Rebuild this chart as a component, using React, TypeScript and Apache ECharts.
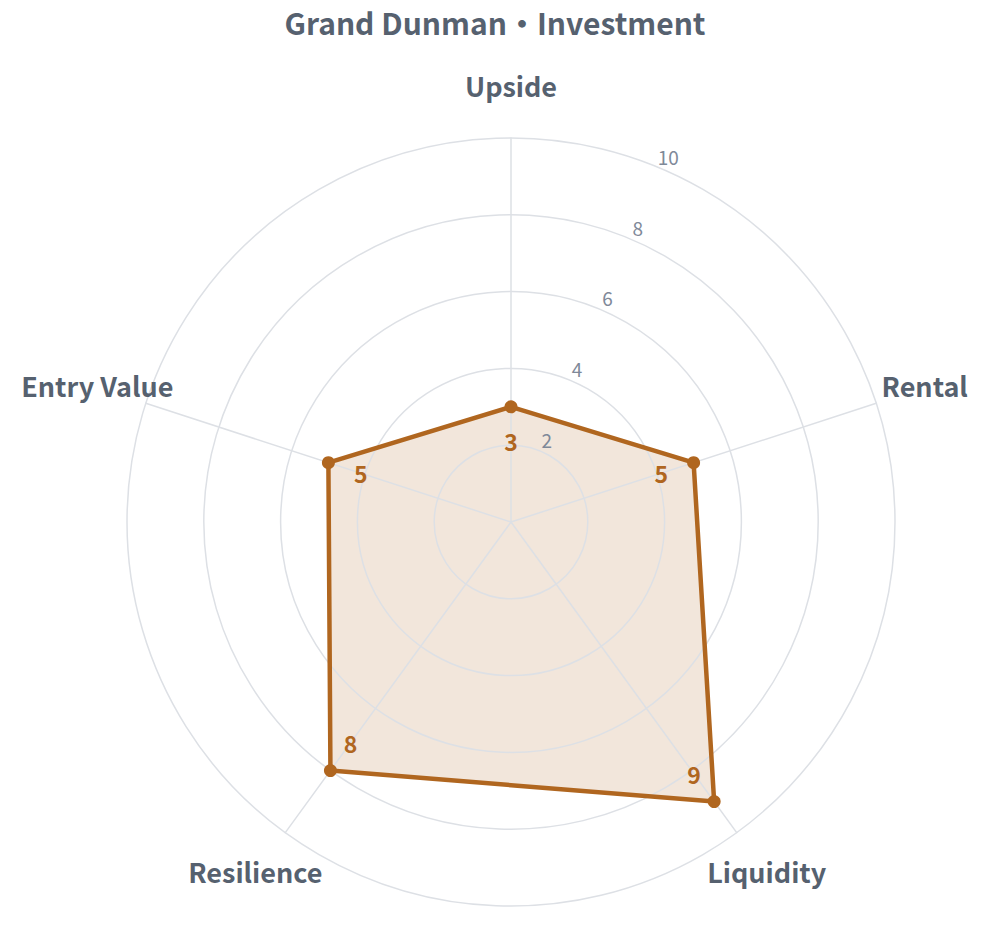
import React, { useEffect, useRef } from "react";
import * as echarts from "echarts";

const TITLE = "Grand Dunman・Investment";
const categories = ["Upside", "Rental", "Liquidity", "Resilience", "Entry Value"];
const scores = [3, 5, 9, 8, 5];
const maxScore = 10;
const tickValues = [2, 4, 6, 8, 10];
const tickLabelAngle = 23.3;

const FONT = "'Noto Sans CJK SC', 'Source Sans 3', 'Source Sans Pro', Lato, sans-serif";
const ACCENT = "#b0661f";
const TEXT = "#56616f";
const TICK_TEXT = "#7f8999";
const GRID = "#dde0e5";

const CENTER: [number, number] = [511, 522];
const RADIUS = 384;

export default function App() {
  const ref = useRef<HTMLDivElement>(null);

  useEffect(() => {
    if (!ref.current) return;
    const chart = echarts.init(ref.current, null, { renderer: "svg" });
    const n = categories.length;
    const step = 360 / n;
    const angleOf = (i: number) => i * step;
    const dirOf = (deg: number, dist: number, dy = 0) => {
      const a = ((90 - deg) * Math.PI) / 180;
      return [dist * Math.cos(a), -dist * Math.sin(a) + dy];
    };
    // ECharts radar runs counter-clockwise; reorder so the picture runs clockwise
    const radarOrder = categories.map((_, i) => (n - i) % n);
    const radarValues = radarOrder.map((i) => scores[i]);

    const hiddenLabelPoint = {
      type: "scatter" as const,
      coordinateSystem: "polar",
      symbol: "circle",
      symbolSize: 1,
      itemStyle: { color: "rgba(0,0,0,0)", opacity: 1 },
      emphasis: { disabled: true },
      silent: true,
      clip: false,
      z: 10,
    };

    chart.setOption({
      animation: false,
      backgroundColor: "#ffffff",
      title: {
        text: TITLE,
        left: "center",
        top: 2,
        textStyle: { fontFamily: FONT, fontSize: 30, fontWeight: "bold", color: TEXT },
      },
      polar: { center: CENTER, radius: RADIUS },
      angleAxis: {
        type: "value",
        min: 0,
        max: 360,
        startAngle: 90,
        clockwise: true,
        show: false,
      },
      radiusAxis: { type: "value", min: 0, max: maxScore, show: false },
      radar: {
        center: CENTER,
        radius: RADIUS,
        startAngle: 90,
        shape: "circle",
        splitNumber: 5,
        z: 1,
        indicator: radarOrder.map((i) => ({ name: categories[i], max: maxScore })),
        axisName: { show: false },
        axisLine: { lineStyle: { color: GRID, width: 1.5 } },
        splitLine: { lineStyle: { color: GRID, width: 1.5 } },
        splitArea: { show: false },
        axisTick: { show: false },
        axisLabel: { show: false },
      },
      series: [
        {
          type: "radar",
          name: "fill",
          z: 0,
          symbol: "none",
          lineStyle: { width: 0, opacity: 0 },
          areaStyle: { color: ACCENT, opacity: 0.16 },
          silent: true,
          data: [{ name: "Investment", value: radarValues }],
        },
        {
          type: "radar",
          name: "outline",
          z: 3,
          symbol: "circle",
          symbolSize: 13,
          lineStyle: { color: ACCENT, width: 4.5 },
          itemStyle: { color: ACCENT },
          label: { show: false },
          data: [{ name: "Investment", value: radarValues }],
        },
        {
          ...hiddenLabelPoint,
          name: "values",
          data: categories.map((c, i) => ({
            name: c,
            value: [scores[i], angleOf(i)],
            label: { offset: dirOf(angleOf(i), -34) },
          })),
          label: {
            show: true,
            position: "inside",
            formatter: (p: any) => String(p.value[0]),
            fontFamily: FONT,
            fontSize: 23,
            fontWeight: "bold",
            color: ACCENT,
          },
        },
        {
          ...hiddenLabelPoint,
          name: "names",
          data: categories.map((c, i) => ({
            name: c,
            value: [maxScore, angleOf(i)],
            label: { offset: dirOf(angleOf(i), 51, -2) },
          })),
          label: {
            show: true,
            position: "inside",
            formatter: "{b}",
            fontFamily: FONT,
            fontSize: 27,
            fontWeight: "bold",
            color: TEXT,
          },
        },
        {
          ...hiddenLabelPoint,
          name: "ticks",
          data: tickValues.map((t) => ({
            value: [t, tickLabelAngle],
            label: { offset: dirOf(tickLabelAngle, 13.5) },
          })),
          label: {
            show: true,
            position: "inside",
            formatter: (p: any) => String(p.value[0]),
            fontFamily: FONT,
            fontSize: 19,
            color: TICK_TEXT,
          },
        },
      ],
    });

    return () => chart.dispose();
  }, []);

  return (
    <div
      ref={ref}
      style={{ position: "fixed", left: 0, top: 0, width: 990, height: 930, background: "#fff" }}
    />
  );
}
